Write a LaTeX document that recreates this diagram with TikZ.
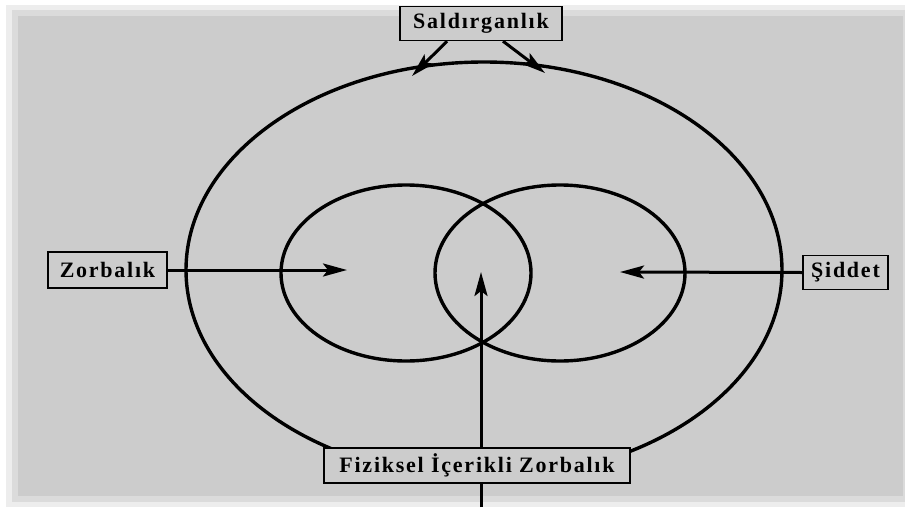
\documentclass[tikz,border=0pt]{standalone}
\usepackage{fontspec}
\usetikzlibrary{arrows.meta}
\newfontfamily\labfont[LetterSpace=8]{Liberation Serif}
\definecolor{bg}{gray}{0.80}
\tikzset{
  lab/.style={draw, fill=bg, line width=1.4pt, inner sep=0pt, minimum height=34pt, font=\labfont\bfseries\fontsize{22}{24}\selectfont},
  arr/.style={line width=3pt, -{Stealth[length=24pt, width=13pt, inset=5pt]}},
  ring/.style={line width=3.4pt}
}
\begin{document}
\begin{tikzpicture}[x=1pt, y=-1pt]
  \useasboundingbox (0,0) rectangle (905,509);
  \fill[white] (0,0) rectangle (905,509);
  \fill[bg!35] (6,5) rectangle (905,507);
  \fill[bg!70] (12,10) rectangle (905,502);
  \fill[bg] (18,16) rectangle (903,496);
  % ellipses
  \draw[ring] (484,270) ellipse [x radius=298pt, y radius=208pt];
  \draw[ring] (406,273) ellipse [x radius=125pt, y radius=88pt];
  \draw[ring] (560,273) ellipse [x radius=125pt, y radius=88pt];
  % arrow tips
  \coordinate (tipL) at (412,76);
  \coordinate (tipR) at (545,73);
  \coordinate (tipZ) at (347,270);
  \coordinate (tipS) at (620,272);
  \coordinate (tipF) at (481,272);
  \coordinate (foot) at (481,507);
  \node[lab, minimum width=162pt] (sal) at (481,23.5) {Saldırganlık};
  \node[lab, minimum width=119pt, minimum height=36pt] (zor) at (107.5,270) {Zorbalık};
  \node[lab, minimum width=85pt] (sid) at (845.5,272.5) {Şiddet};
  \draw[arr] ([xshift=-34pt]sal.south) -- (tipL);
  \draw[arr] ([xshift=22pt]sal.south) -- (tipR);
  \draw[arr] (zor.east) -- (tipZ);
  \draw[arr] (sid.west) -- (tipS);
  \draw[arr] (foot) -- (tipF);
  \node[lab, minimum width=306pt, minimum height=35pt] (fiz) at (477,465.5) {Fiziksel İçerikli Zorbalık};
\end{tikzpicture}
\end{document}
